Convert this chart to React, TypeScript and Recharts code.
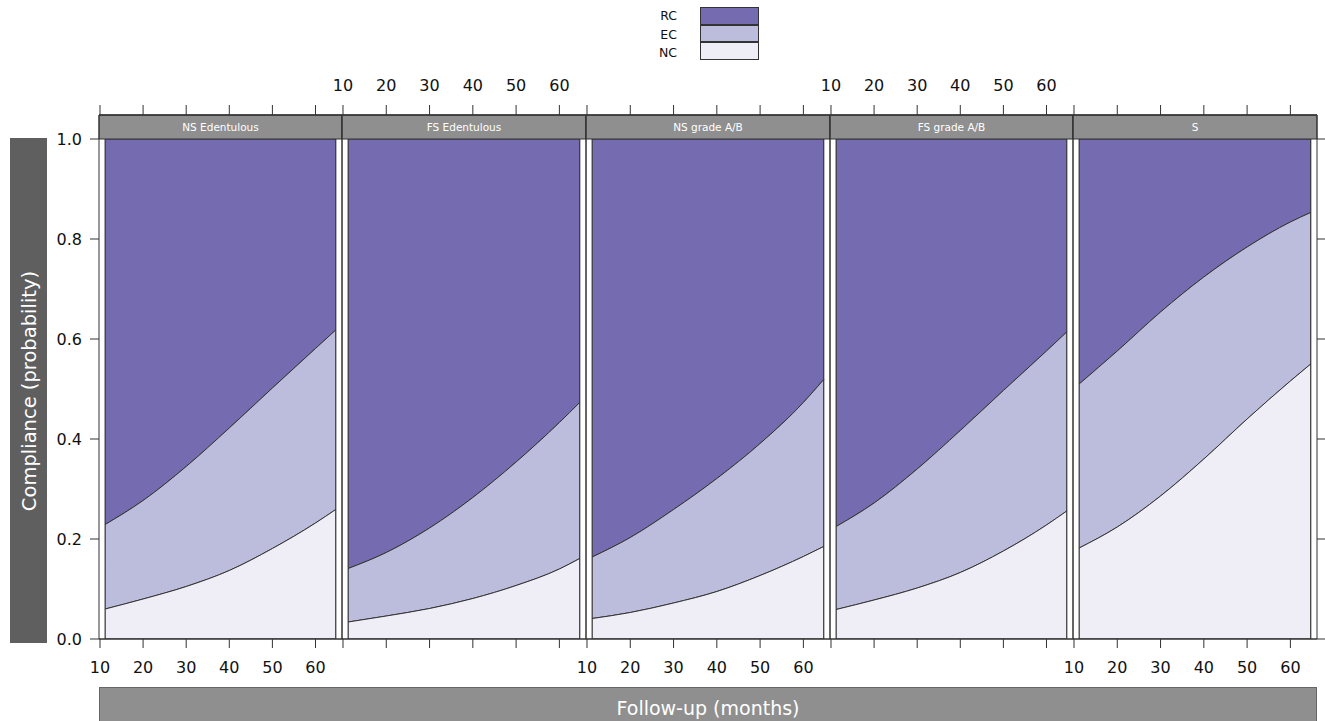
import React from 'react';
import { AreaChart, Area, XAxis, YAxis, ReferenceArea, ReferenceLine } from 'recharts';

// ---- data ----
const months = [11.2, 20, 30, 40, 50, 60, 64.7];
const panelNames = ['NS Edentulous', 'FS Edentulous', 'NS grade A/B', 'FS grade A/B', 'S'];
const monthTicks = [10, 20, 30, 40, 50, 60];
const probTicks = [0, 0.2, 0.4, 0.6, 0.8, 1.0];
const legendLabels = ['RC', 'EC', 'NC'];

// boundary between NC and EC (cumulative P(NC))
const nsEdentulousLower = [0.06, 0.08, 0.105, 0.137, 0.181, 0.232, 0.259];
const fsEdentulousLower = [0.034, 0.046, 0.061, 0.081, 0.107, 0.14, 0.161];
const nsGradeABLower = [0.041, 0.053, 0.072, 0.095, 0.127, 0.165, 0.185];
const fsGradeABLower = [0.059, 0.078, 0.102, 0.133, 0.176, 0.228, 0.256];
const sLower = [0.182, 0.224, 0.286, 0.36, 0.44, 0.516, 0.55];

// boundary between EC and RC (cumulative P(NC)+P(EC))
const nsEdentulousUpper = [0.229, 0.277, 0.345, 0.422, 0.502, 0.581, 0.618];
const fsEdentulousUpper = [0.141, 0.173, 0.222, 0.283, 0.354, 0.433, 0.473];
const nsGradeABUpper = [0.164, 0.203, 0.259, 0.321, 0.391, 0.473, 0.519];
const fsGradeABUpper = [0.225, 0.272, 0.34, 0.417, 0.497, 0.576, 0.614];
const sUpper = [0.51, 0.576, 0.654, 0.724, 0.784, 0.834, 0.853];

const lowers = [nsEdentulousLower, fsEdentulousLower, nsGradeABLower, fsGradeABLower, sLower];
const uppers = [nsEdentulousUpper, fsEdentulousUpper, nsGradeABUpper, fsGradeABUpper, sUpper];

// ---- style / layout ----
const FONT = '"DejaVu Sans", Lato, sans-serif';
const COLORS = { RC: '#756bb1', EC: '#bcbddc', NC: '#efedf5' };
const LINE = '#333333';
const STRIP = '#8f8f8f';
const panelLefts = [99, 342, 586, 830, 1073];
const panelWidths = [243, 244, 244, 243, 244];
const PLOT_TOP = 115;
const PLOT_H = 524;
const Y_TOP = 1.048; // strip occupies 1.0 .. Y_TOP
const X_MIN = 9.77;
const X_MAX = 66.15;
const MT = 20;
const TOP_AXIS_H = 20;
const BOTTOM_AXIS_H = 45;
const MB = 5;
const ML = 30;
const MR = 30;
const LEFT_Y_W = 60;
const RIGHT_Y_W = 10;
const legendLabelCenters = [16, 34.5, 53];

type PanelProps = { idx: number };

function Panel({ idx }: PanelProps) {
  const lower = lowers[idx];
  const upper = uppers[idx];
  const data = months.map((m, i) => ({
    m,
    nc: [0, lower[i]],
    ec: [lower[i], upper[i]],
    rc: [upper[i], 1],
  }));
  const showLeft = idx === 0;
  const showRight = idx === 4;
  const bottomLabels = idx % 2 === 0;
  const topLabels = idx % 2 === 1;
  const pw = panelWidths[idx];
  const leftW = showLeft ? LEFT_Y_W : 0;
  const rightW = showRight ? RIGHT_Y_W : 0;
  const width = ML + leftW + pw + rightW + MR;
  const height = MT + TOP_AXIS_H + PLOT_H + BOTTOM_AXIS_H + MB;
  const left = panelLefts[idx] - ML - leftW;
  const top = PLOT_TOP - MT - TOP_AXIS_H;
  const tickStyle = { fill: '#111', fontSize: 16, fontFamily: FONT };
  const empty = () => '';
  return (
    <div style={{ position: 'absolute', left, top }}>
      <AreaChart width={width} height={height} data={data} margin={{ top: MT, right: MR, bottom: MB, left: ML }}>
        <XAxis
          xAxisId={0}
          type="number"
          dataKey="m"
          domain={[X_MIN, X_MAX]}
          allowDataOverflow
          ticks={monthTicks}
          height={BOTTOM_AXIS_H}
          tickSize={9}
          tickMargin={14}
          tick={tickStyle}
          tickLine={{ stroke: LINE }}
          axisLine={{ stroke: LINE }}
          tickFormatter={bottomLabels ? undefined : empty}
        />
        <XAxis
          xAxisId="top"
          orientation="top"
          type="number"
          dataKey="m"
          domain={[X_MIN, X_MAX]}
          allowDataOverflow
          ticks={monthTicks}
          height={TOP_AXIS_H}
          tickSize={10}
          tickMargin={14}
          tick={tickStyle}
          tickLine={{ stroke: LINE }}
          axisLine={{ stroke: LINE }}
          tickFormatter={topLabels ? undefined : empty}
        />
        <YAxis
          yAxisId={0}
          type="number"
          domain={[0, Y_TOP]}
          allowDataOverflow
          ticks={probTicks}
          hide={!showLeft}
          width={LEFT_Y_W}
          tickSize={9}
          tickMargin={8}
          tick={tickStyle}
          tickLine={{ stroke: LINE }}
          axisLine={false}
          tickFormatter={(v: number) => v.toFixed(1)}
        />
        {showRight && (
          <YAxis
            yAxisId="right"
            orientation="right"
            type="number"
            domain={[0, Y_TOP]}
            allowDataOverflow
            ticks={probTicks}
            width={RIGHT_Y_W}
            tickSize={8}
            tickMargin={2}
            tick={tickStyle}
            tickLine={{ stroke: LINE }}
            axisLine={false}
            tickFormatter={empty}
          />
        )}
        <Area
          type="monotone"
          dataKey="rc"
          fill={COLORS.RC}
          fillOpacity={1}
          stroke={LINE}
          strokeWidth={1}
          isAnimationActive={false}
          dot={false}
          activeDot={false}
        />
        <Area
          type="monotone"
          dataKey="ec"
          fill={COLORS.EC}
          fillOpacity={1}
          stroke={LINE}
          strokeWidth={1}
          isAnimationActive={false}
          dot={false}
          activeDot={false}
        />
        <Area
          type="monotone"
          dataKey="nc"
          fill={COLORS.NC}
          fillOpacity={1}
          stroke={LINE}
          strokeWidth={1}
          isAnimationActive={false}
          dot={false}
          activeDot={false}
        />
        <ReferenceLine
          segment={[{ x: months[0], y: 0 }, { x: months[0], y: 1 }]}
          stroke={LINE}
          strokeWidth={1.2}
        />
        <ReferenceLine
          segment={[{ x: months[months.length - 1], y: 0 }, { x: months[months.length - 1], y: 1 }]}
          stroke={LINE}
          strokeWidth={1.2}
        />
        <ReferenceArea
          x1={X_MIN}
          x2={X_MAX}
          y1={1}
          y2={Y_TOP}
          fill={STRIP}
          fillOpacity={1}
          stroke={LINE}
          strokeWidth={1}
          label={{ value: panelNames[idx], position: 'center', fill: '#ffffff', fontSize: 10.5, fontFamily: FONT }}
        />
        <ReferenceArea
          x1={X_MIN}
          x2={X_MAX}
          y1={0}
          y2={Y_TOP}
          fill="none"
          fillOpacity={0}
          stroke={LINE}
          strokeWidth={1}
        />
      </AreaChart>
    </div>
  );
}

export default function App() {
  const legendColors = [COLORS.RC, COLORS.EC, COLORS.NC];
  return (
    <div
      style={{
        position: 'absolute',
        left: 0,
        top: 0,
        width: 1325,
        height: 721,
        overflow: 'hidden',
        background: '#ffffff',
        fontFamily: FONT,
      }}
    >
      {/* legend */}
      {legendLabels.map((lab, i) => (
        <React.Fragment key={lab}>
          <div
            style={{
              position: 'absolute',
              left: 617,
              width: 60,
              top: legendLabelCenters[i] - 9,
              height: 18,
              lineHeight: '18px',
              textAlign: 'right',
              fontSize: 12.5,
              color: '#111',
            }}
          >
            {lab}
          </div>
          <div
            style={{
              position: 'absolute',
              left: 700,
              top: 7 + i * 17.6,
              width: 59,
              height: 17.6,
              boxSizing: 'border-box',
              background: legendColors[i],
              border: `1px solid ${LINE}`,
              borderTopWidth: i === 0 ? 1 : 0.5,
            }}
          />
        </React.Fragment>
      ))}

      {panelNames.map((_, i) => (
        <Panel key={i} idx={i} />
      ))}

      {/* y label box */}
      <div
        style={{
          position: 'absolute',
          left: 10,
          top: 138,
          width: 37,
          height: 505,
          background: '#5f5f5f',
        }}
      >
        <div
          style={{
            position: 'absolute',
            left: '50%',
            top: '50%',
            transform: 'translate(-50%, -50%) rotate(-90deg)',
            whiteSpace: 'nowrap',
            color: '#ffffff',
            fontSize: 19.5,
          }}
        >
          Compliance (probability)
        </div>
      </div>

      {/* x label box */}
      <div
        style={{
          position: 'absolute',
          left: 99,
          top: 687,
          width: 1218,
          height: 40,
          background: STRIP,
          boxSizing: 'border-box',
          borderTop: `1px solid #666`,
          borderLeft: `1px solid #666`,
          borderRight: `1px solid #666`,
        }}
      >
        <div
          style={{
            position: 'absolute',
            left: 0,
            right: 0,
            top: 9,
            textAlign: 'center',
            color: '#ffffff',
            fontSize: 19,
          }}
        >
          Follow-up (months)
        </div>
      </div>
    </div>
  );
}
